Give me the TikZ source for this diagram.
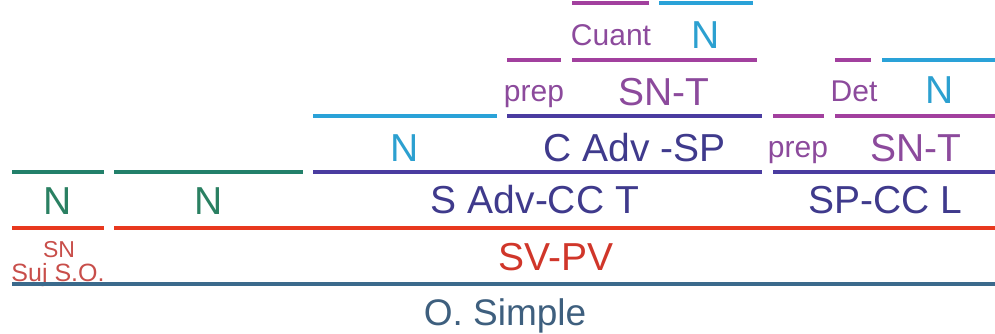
\documentclass[tikz,border=0pt]{standalone}
\usepackage{fontspec}
\setmainfont{Liberation Sans}
\definecolor{cgreen}{HTML}{22806A}
\definecolor{cgreentxt}{HTML}{2A8062}
\definecolor{cred}{HTML}{E8381E}
\definecolor{credtxt}{HTML}{D0362A}
\definecolor{csmallred}{HTML}{C84E4A}
\definecolor{cnavy}{HTML}{3B6A8C}
\definecolor{cnavytxt}{HTML}{3E5F7E}
\definecolor{cpurple}{HTML}{4A3CA0}
\definecolor{cpurpletxt}{HTML}{3F3A8C}
\definecolor{cmag}{HTML}{A2409E}
\definecolor{cmagtxt}{HTML}{8C4A9C}
\definecolor{cblue}{HTML}{2AA2D8}
\definecolor{cbluetxt}{HTML}{2CA0D0}
\tikzset{
  seg/.style={line width=4pt},
  big/.style={anchor=base, inner sep=0pt, font=\fontsize{39}{41}\selectfont},
  small/.style={anchor=base, inner sep=0pt, font=\fontsize{30}{32}\selectfont},
  tiny/.style={anchor=base, inner sep=0pt, font=\fontsize{23}{25}\selectfont},
}
\begin{document}
\begin{tikzpicture}[x=1pt,y=-1pt]
\useasboundingbox (0,0) rectangle (995,333);
% row 0 (top)
\draw[seg,cmag] (572,3) -- (649,3);
\draw[seg,cblue] (659,3) -- (753,3);
\node[small,text=cmagtxt] (cuant) at (611,45) {Cuant};
\node[big,text=cbluetxt] (n0) at (706,48) {N};
% row 1
\draw[seg,cmag] (507,60) -- (561,60);
\draw[seg,cmag] (572,60) -- (757,60);
\draw[seg,cmag] (835,60) -- (871,60);
\draw[seg,cblue] (882,60) -- (995,60);
\node[small,text=cmagtxt] (prepA) at (534,101) {prep};
\node[big,text=cmagtxt] (sntA) at (664,105) {SN-T};
\node[small,text=cmagtxt] (det) at (854,101) {Det};
\node[big,text=cbluetxt] (n1) at (940,103) {N};
% row 2
\draw[seg,cblue] (313,116) -- (497,116);
\draw[seg,cpurple] (507,116) -- (762,116);
\draw[seg,cmag] (773,116) -- (824,116);
\draw[seg,cmag] (835,116) -- (995,116);
\node[big,text=cbluetxt] (n2) at (405,161) {N};
\node[big,text=cpurpletxt] (cadv) at (635,161) {C Adv -SP};
\node[small,text=cmagtxt] (prepB) at (798,157) {prep};
\node[big,text=cmagtxt] (sntB) at (916,161) {SN-T};
% row 3
\draw[seg,cgreen] (12,172) -- (104,172);
\draw[seg,cgreen] (114,172) -- (303,172);
\draw[seg,cpurple] (313,172) -- (762,172);
\draw[seg,cpurple] (773,172) -- (995,172);
\node[big,text=cgreentxt] (ng1) at (58,214) {N};
\node[big,text=cgreentxt] (ng2) at (209,214) {N};
\node[big,text=cpurpletxt] (sadv) at (535,213) {S Adv-CC T};
\node[big,text=cpurpletxt] (spcc) at (885,213) {SP-CC L};
% row 4
\draw[seg,cred] (12,228) -- (104,228);
\draw[seg,cred] (114,228) -- (995,228);
\node[tiny,text=csmallred] (sn) at (59,257) {SN};
\node[anchor=base, inner sep=0pt, font=\fontsize{25}{27}\selectfont,text=csmallred] (suj) at (58,281) {Suj S.O.};
\node[big,text=credtxt] (svpv) at (556,270) {SV-PV};
% row 5
\draw[seg,cnavy] (12,284) -- (995,284);
\node[anchor=base, inner sep=0pt, font=\fontsize{37}{39}\selectfont,text=cnavytxt] (osimple) at (505,325) {O. Simple};
\end{tikzpicture}
\end{document}
